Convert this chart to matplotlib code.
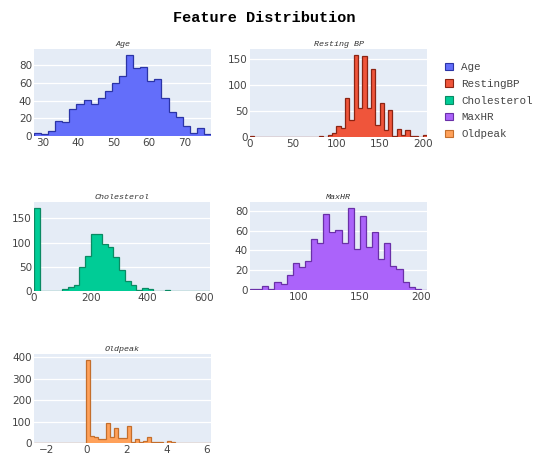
"""
Feature distribution grid for the heart dataset: one histogram per
numeric column, laid out 3x2 with a shared legend on the right.
"""

import numpy as np
import matplotlib.pyplot as plt
from matplotlib.patches import Patch

# Bin counts per feature (fixed-width bins)
age_edges = np.arange(27.5, 77.6, 2)
age_counts = [3, 2, 6, 17, 16, 30, 36, 41, 36, 43, 51, 60, 68, 92, 77, 78,
              62, 65, 43, 27, 22, 11, 3, 9, 2]

bp_edges = np.arange(0, 206, 5)
bp_counts = [1, 0, 0, 0, 0, 0, 0, 0, 0, 0, 0, 0, 0, 0, 0, 0, 1, 0, 4, 8,
             21, 18, 74, 32, 158, 56, 156, 55, 131, 23, 66, 13, 51, 1, 16,
             3, 13, 1, 1, 0, 4]

chol_edges = np.arange(0, 621, 20)
chol_counts = [172, 0, 0, 1, 1, 4, 8, 13, 49, 73, 118, 118, 97, 92, 70, 43,
               20, 13, 2, 6, 4, 1, 0, 2, 1, 1, 1, 0, 1, 0, 1]

hr_edges = np.arange(60, 206, 5)
hr_counts = [1, 1, 4, 1, 8, 6, 15, 27, 23, 29, 51, 47, 77, 59, 61, 47, 83,
             41, 75, 43, 59, 31, 47, 24, 21, 8, 3, 1, 0]

op_edges = np.round(np.arange(-2.6, 6.21, 0.2), 1)
op_counts = [1, 0, 0, 1, 0, 1, 0, 1, 2, 2, 2, 0, 1, 388, 32, 28, 20, 20, 92,
             28, 72, 22, 24, 80, 4, 17, 4, 8, 30, 4, 5, 4, 2, 9, 3, 1, 0, 0,
             1, 0, 0, 1, 0, 1]

names = ["Age", "RestingBP", "Cholesterol", "MaxHR", "Oldpeak"]
titles = ["Age", "Resting BP", "Cholesterol", "MaxHR", "Oldpeak"]
fills = ["#636EFA", "#EF553B", "#00CC96", "#AB63FA", "#FFA15A"]
edges_col = ["#2b34a6", "#8c2413", "#0a8a63", "#6a30a8", "#c46e2c"]

x_ticks = [[30, 40, 50, 60, 70], [0, 50, 100, 150, 200], [0, 200, 400, 600],
           [100, 150, 200], [-2, 0, 2, 4, 6]]
y_ticks = [[0, 20, 40, 60, 80], [0, 50, 100, 150], [0, 50, 100, 150],
           [0, 20, 40, 60, 80], [0, 100, 200, 300, 400]]

hists = [(age_edges, age_counts), (bp_edges, bp_counts),
         (chol_edges, chol_counts), (hr_edges, hr_counts),
         (op_edges, op_counts)]

W, H = 534, 457
# panel boxes in pixels: left, top, right, bottom
boxes = [(34, 49, 211, 136), (250, 49, 427, 137), (34, 202, 210, 291),
         (250, 202, 427, 290), (34, 354, 211, 443)]

mono = "Liberation Mono"
fig = plt.figure(figsize=(W / 100, H / 100), dpi=100)

for i, (edges, counts) in enumerate(hists):
    l, t, r, b = boxes[i]
    ax = fig.add_axes([l / W, 1 - b / H, (r - l) / W, (b - t) / H])
    ax.set_facecolor("#E5ECF6")
    ax.stairs(counts, edges, fill=True, facecolor=fills[i],
              edgecolor=edges_col[i], linewidth=0.9, zorder=3)
    ax.set_xlim(edges[0], edges[-1])
    ax.set_ylim(0, max(counts) * 1.07)
    ax.set_xticks(x_ticks[i])
    ax.set_yticks(y_ticks[i])
    ax.grid(axis="y", color="white", linewidth=0.9, zorder=0)
    ax.set_axisbelow(True)
    for s in ax.spines.values():
        s.set_visible(False)
    ax.tick_params(length=0, pad=1.5, labelsize=7.5, labelcolor="#444444")
    ax.set_title(titles[i], fontsize=6, family=mono, style="italic",
                 color="#333333", pad=2)

fig.suptitle("Feature Distribution", x=0.494, y=0.975, fontsize=11,
             family=mono, fontweight="bold")

handles = [Patch(facecolor=f, edgecolor=e, linewidth=0.8)
           for f, e in zip(fills, edges_col)]
fig.legend(handles, names, loc="upper left", bbox_to_anchor=(0.815, 0.885),
           frameon=False, prop={"family": mono, "size": 7.8},
           handlelength=0.7, handleheight=0.7, handletextpad=0.8,
           labelspacing=0.62, labelcolor="#444444")

fig.savefig("out.png", dpi=100)
